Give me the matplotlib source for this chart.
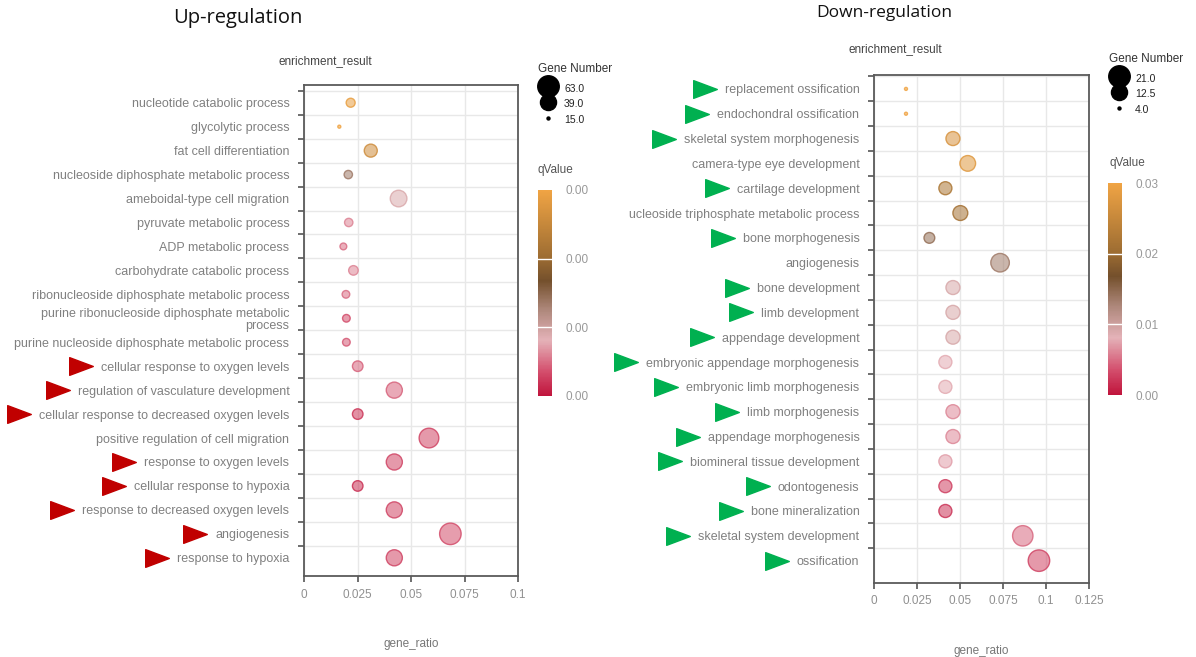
import numpy as np
import matplotlib
matplotlib.use('Agg')
import matplotlib.pyplot as plt
import matplotlib.transforms as mtransforms
from matplotlib.colors import LinearSegmentedColormap, Normalize
from matplotlib.lines import Line2D
from matplotlib.path import Path

plt.rcParams['font.family'] = ['Liberation Sans', 'DejaVu Sans']

# ---- Up-regulation data ----
up_terms = ['nucleotide catabolic process', 'glycolytic process', 'fat cell differentiation',
            'nucleoside diphosphate metabolic process', 'ameboidal-type cell migration',
            'pyruvate metabolic process', 'ADP metabolic process', 'carbohydrate catabolic process',
            'ribonucleoside diphosphate metabolic process',
            'purine ribonucleoside diphosphate metabolic\nprocess',
            'purine nucleoside diphosphate metabolic process',
            'cellular response to oxygen levels', 'regulation of vasculature development',
            'cellular response to decreased oxygen levels', 'positive regulation of cell migration',
            'response to oxygen levels', 'cellular response to hypoxia',
            'response to decreased oxygen levels', 'angiogenesis', 'response to hypoxia']
up_ratio = [0.0218, 0.0165, 0.0312, 0.0207, 0.0442, 0.0209, 0.0184, 0.0231, 0.0196, 0.0198,
            0.0198, 0.0251, 0.0422, 0.0251, 0.0584, 0.0422, 0.0251, 0.0422, 0.0684, 0.0422]
up_genes = [20, 15, 29, 19, 41, 19, 17, 21, 18, 18, 18, 23, 39, 23, 54, 39, 23, 39, 63, 39]
up_qvalue = [0.0029, 0.0030, 0.0026, 0.00135, 0.0009, 0.0006, 0.0005, 0.0006, 0.0005, 0.00035,
             0.0004, 0.00045, 0.00045, 0.00022, 0.0003, 0.0003, 0.00018, 0.0003, 0.00035, 0.0003]
up_marked = ['cellular response to oxygen levels', 'regulation of vasculature development',
             'cellular response to decreased oxygen levels', 'response to oxygen levels',
             'cellular response to hypoxia', 'response to decreased oxygen levels',
             'angiogenesis', 'response to hypoxia']
up_size_legend = [63.0, 39.0, 15.0]
up_q_ticks = [0.0, 0.001, 0.002, 0.003]

# ---- Down-regulation data ----
down_terms = ['replacement ossification', 'endochondral ossification', 'skeletal system morphogenesis',
              'camera-type eye development', 'cartilage development',
              'ucleoside triphosphate metabolic process', 'bone morphogenesis', 'angiogenesis',
              'bone development', 'limb development', 'appendage development',
              'embryonic appendage morphogenesis', 'embryonic limb morphogenesis',
              'limb morphogenesis', 'appendage morphogenesis', 'biomineral tissue development',
              'odontogenesis', 'bone mineralization', 'skeletal system development', 'ossification']
down_ratio = [0.0186, 0.0186, 0.0459, 0.0545, 0.0415, 0.0502, 0.0322, 0.0733, 0.0459, 0.0459,
              0.0459, 0.0415, 0.0415, 0.0459, 0.0459, 0.0415, 0.0415, 0.0415, 0.0865, 0.0959]
down_genes = [4, 4, 10, 12, 9, 11, 7, 16, 10, 10, 10, 9, 9, 10, 10, 9, 9, 9, 19, 21]
down_qvalue = [0.030, 0.030, 0.027, 0.028, 0.022, 0.021, 0.0145, 0.0135, 0.0092, 0.0092, 0.0092,
               0.0078, 0.0078, 0.0062, 0.0062, 0.0072, 0.0028, 0.0020, 0.0048, 0.0030]
down_marked = ['replacement ossification', 'endochondral ossification', 'skeletal system morphogenesis',
               'cartilage development', 'bone morphogenesis', 'bone development', 'limb development',
               'appendage development', 'embryonic appendage morphogenesis',
               'embryonic limb morphogenesis', 'limb morphogenesis', 'appendage morphogenesis',
               'biomineral tissue development', 'odontogenesis', 'bone mineralization',
               'skeletal system development', 'ossification']
down_size_legend = [21.0, 12.5, 4.0]
down_q_ticks = [0.0, 0.01, 0.02, 0.03]

W, H = 1196, 657
fig = plt.figure(figsize=(W / 100, H / 100), dpi=100)


def rect(x0, y0, w, h):
    return [x0 / W, 1 - (y0 + h) / H, w / W, h / H]


qcmap = LinearSegmentedColormap.from_list('qvalue', [
    (0.0, '#c0143c'), (0.12, '#d4506e'), (0.27, '#e4b2b8'), (0.42, '#ad877a'),
    (0.56, '#74502c'), (0.67, '#9c6c32'), (1.0, '#f0a444')])

tri = Path([(-1, -0.75), (1, 0), (-1, 0.75), (-1, -0.75)],
           [Path.MOVETO, Path.LINETO, Path.LINETO, Path.CLOSEPOLY])


def diam(g, gmin, gmax):
    # marker diameter in pixels
    g = np.asarray(g, dtype=float)
    return 3.0 + 18.5 * np.sqrt((g - gmin) / (gmax - gmin))


def panel(ax_rect, terms, ratio, genes, qvalue, q_ticks, xmax, ylim, size_leg,
          leg_pos, cbar_rect, qtitle_pos):
    ax = fig.add_axes(rect(*ax_rect))
    n = len(terms)
    ypos = np.arange(n)
    gmin, gmax = size_leg[-1], size_leg[0]
    norm = Normalize(q_ticks[0], q_ticks[-1])
    face = qcmap(norm(qvalue))
    edge = face.copy()
    face[:, 3] = 0.55
    edge[:, 3] = 0.85
    s = (diam(genes, gmin, gmax) * 0.72) ** 2
    ax.scatter(ratio, ypos, s=s, c=face, edgecolors=edge, linewidths=1.0, zorder=3)

    ax.set_xlim(0, xmax)
    ax.set_ylim(*ylim)
    ax.set_yticks(ypos)
    ax.set_yticklabels(terms)
    ax.set_yticks(ypos - 0.5, minor=True)
    ax.set_xticks(np.arange(0, xmax + 1e-9, 0.025))
    ax.xaxis.set_major_formatter(plt.FuncFormatter(lambda v, p: f'{v:g}'))
    ax.tick_params(axis='y', which='major', length=0, pad=10.5, labelsize=9, labelcolor='#808080')
    ax.tick_params(axis='y', which='minor', length=4, width=1.2, color='#555555')
    ax.tick_params(axis='x', length=4, width=1.2, color='#555555', pad=5, labelsize=8.5,
                   labelcolor='#909090')
    for lbl in ax.get_yticklabels():
        lbl.set_linespacing(1.0)
    ax.grid(True, axis='x', which='major', color='#e8e8e8', lw=1, zorder=0)
    ax.grid(True, axis='y', which='minor', color='#e8e8e8', lw=1, zorder=0)
    ax.set_axisbelow(True)
    for sp in ax.spines.values():
        sp.set_color('#5a5a5a')
        sp.set_linewidth(1.3)
    ax.set_xlabel('gene_ratio', fontsize=8.5, color='#777777', labelpad=27)

    # size legend
    fig.text(leg_pos[0] / W, 1 - leg_pos[1] / H, 'Gene Number', fontsize=8.5,
             color='#333333', va='center', ha='left')
    handles = [Line2D([], [], ls='none', marker='o', color='black',
                      markersize=float(diam(v, gmin, gmax)) * 0.72) for v in size_leg]
    leg = fig.legend(handles, [f'{v:.1f}' for v in size_leg],
                     loc='upper left', bbox_to_anchor=(leg_pos[0] / W, 1 - (leg_pos[1] + 12) / H),
                     frameon=False, fontsize=7.5, handlelength=2.0,
                     handleheight=1.85, handletextpad=0.5, labelspacing=0.05, borderpad=0,
                     borderaxespad=0)
    for t in leg.get_texts():
        t.set_color('#222222')

    # qValue colorbar
    cax = fig.add_axes(rect(*cbar_rect))
    sm = plt.cm.ScalarMappable(norm=norm, cmap=qcmap)
    cb = fig.colorbar(sm, cax=cax, ticks=q_ticks)
    cb.outline.set_visible(False)
    cb.ax.set_yticklabels([f'{v:.2f}' for v in q_ticks])
    cb.ax.tick_params(length=0, pad=10, labelsize=8.5, labelcolor='#999999')
    for v in q_ticks[1:-1]:
        cb.ax.axhline(v, color='white', lw=1)
    fig.text(qtitle_pos[0] / W, 1 - qtitle_pos[1] / H, 'qValue', fontsize=8.5,
             color='#555555', va='center', ha='left')
    return ax


ax_up = panel((304, 85, 214, 491), up_terms, up_ratio, up_genes, up_qvalue, up_q_ticks,
              0.1, (19.76, -0.74), up_size_legend, (538, 69), (538, 190, 14, 206), (538, 170))
ax_down = panel((874, 75, 215, 508), down_terms, down_ratio, down_genes, down_qvalue, down_q_ticks,
                0.125, (19.9, -0.56), down_size_legend, (1109, 59), (1108, 183, 14, 212), (1109, 163))

fig.text(238 / W, 1 - 18 / H, 'Up-regulation', fontsize=14.5, family=['Open Sans', 'DejaVu Sans'],
         ha='center', va='center', color='#111111')
fig.text(884 / W, 1 - 13 / H, 'Down-regulation', fontsize=12.5, family=['Open Sans', 'DejaVu Sans'],
         ha='center', va='center', color='#111111')
fig.text(325 / W, 1 - 61 / H, 'enrichment_result', fontsize=8.5, color='#444444',
         ha='center', va='center')
fig.text(895 / W, 1 - 49 / H, 'enrichment_result', fontsize=8.5, color='#444444',
         ha='center', va='center')

# arrows next to highlighted terms
fig.canvas.draw()
renderer = fig.canvas.get_renderer()
for ax, terms, marked, col in [(ax_up, up_terms, up_marked, '#c00000'),
                               (ax_down, down_terms, down_marked, '#00b050')]:
    blend = mtransforms.blended_transform_factory(fig.transFigure, ax.transData)
    for i, lbl in enumerate(ax.get_yticklabels()):
        if terms[i] not in marked:
            continue
        bb = lbl.get_window_extent(renderer)
        xc = (bb.x0 - 8 - 12) / W
        ax.plot([xc], [i], ls='none', marker=tri, markersize=17, color=col,
                transform=blend, clip_on=False, zorder=5)

fig.savefig('out.png', dpi=100)
